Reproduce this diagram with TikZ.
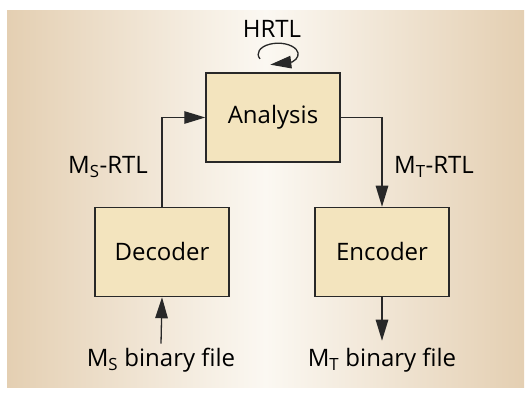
\documentclass[tikz,border=0pt]{standalone}
\usepackage{fontspec}
\setmainfont{Open Sans}
\usetikzlibrary{arrows.meta}
\definecolor{fondoborde}{RGB}{228,207,178}
\definecolor{fondocentro}{RGB}{251,248,242}
\definecolor{cajafondo}{RGB}{243,228,190}
\definecolor{lineagris}{RGB}{40,40,40}

\begin{document}
\begin{tikzpicture}[x=1pt, y=1pt,
    font=\fontsize{24}{28}\selectfont,
    >={Triangle[length=21pt, width=12.5pt]},
    bloque/.style={draw=lineagris, line width=1.5pt, fill=cajafondo,
        minimum width=134pt, minimum height=89pt},
    flecha/.style={->, line width=1.3pt, lineagris},
    etiqueta/.style={inner sep=4pt}]
            % Fondo
            \useasboundingbox (0,0) rectangle (526,395);
            \shade[left color=fondoborde, right color=fondoborde,
                middle color=fondocentro] (7,7) rectangle (524,384);

            % Bloques
            \node[bloque] (analysis) at (273,277.5) {Analysis};
            \node[bloque] (decoder) at (162,143) {Decoder};
            \node[bloque] (encoder) at (382,143) {Encoder};

            % Etiquetas
            \node[etiqueta] (hrtl) at (272,366) {HRTL};
            \node[etiqueta] (msrtl) at (108,228) {M\textsubscript{S}-RTL};
            \node[etiqueta] (mtrtl) at (434,228) {M\textsubscript{T}-RTL};
            \node[etiqueta] (msfile) at (161,35) {M\textsubscript{S} binary file};
            \node[etiqueta] (mtfile) at (382,35) {M\textsubscript{T} binary file};

            % Flujo
            \draw[flecha] (decoder.north) |- (analysis.west);
            \draw[flecha] (analysis.east) -| (encoder.north);
            \draw[flecha] (msfile.north) -- (decoder.south);
            \draw[flecha, shorten >=3pt] (encoder.south) -- (mtfile.north);

            % Lazo HRTL
            \coordinate (lazo) at ([xshift=-13pt, yshift=13.4pt]analysis.north);
            \draw[flecha] (lazo) arc[start angle=205, end angle=-45,
                x radius=20pt, y radius=11pt] -- ++(-22pt,-2.7pt);
        \end{tikzpicture}
\end{document}
